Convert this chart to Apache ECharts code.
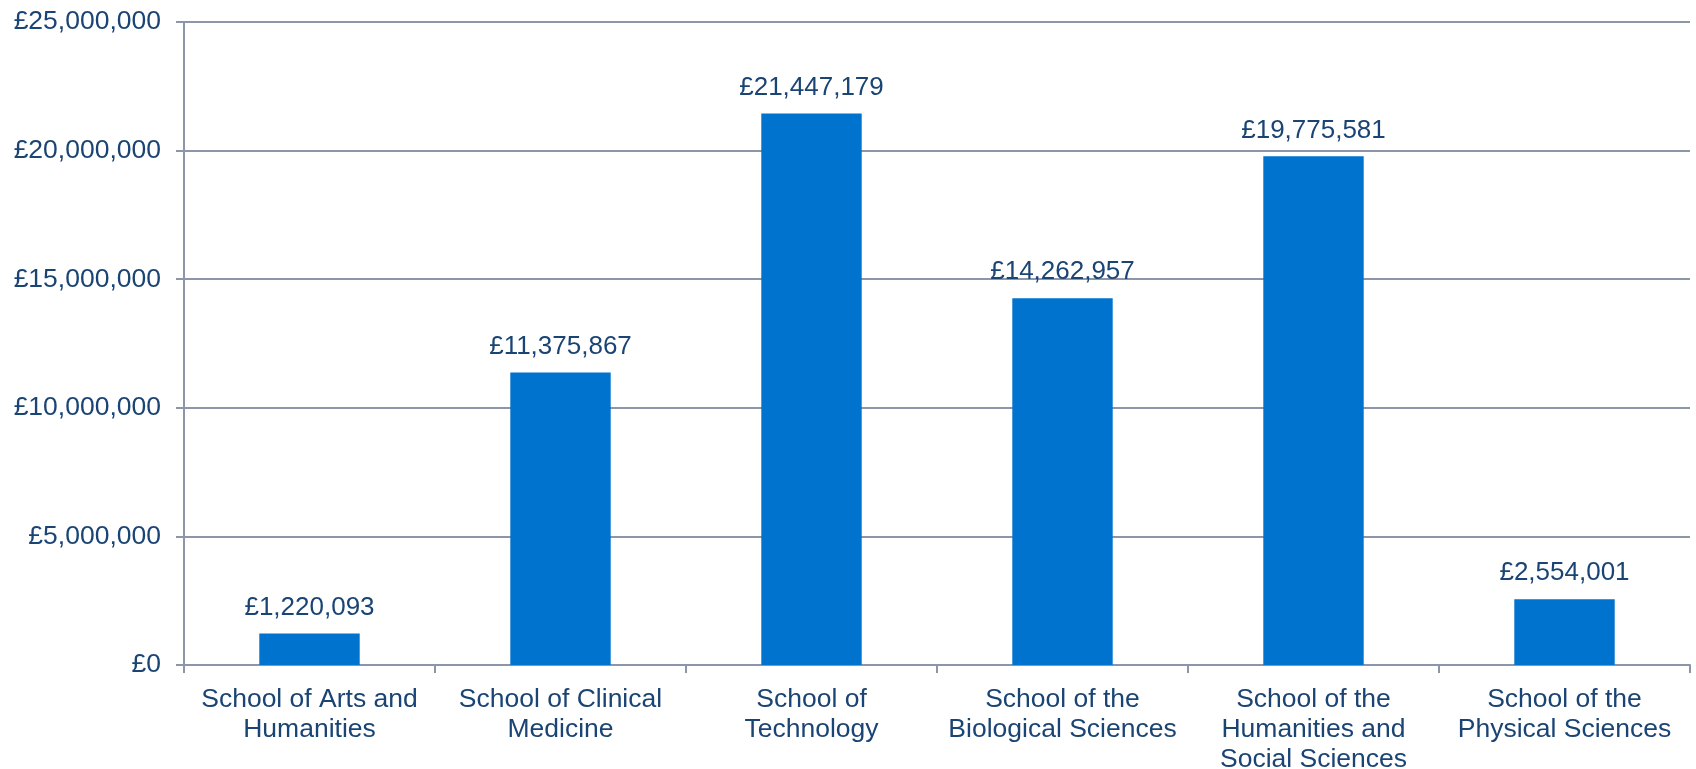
<!DOCTYPE html>
<html>
<head>
<meta charset="utf-8">
<script src="https://cdn.jsdelivr.net/npm/echarts@6/dist/echarts.min.js"></script>
<style>html,body{margin:0;padding:0;background:#fff}#c{width:1696px;height:769px}</style>
</head>
<body>
<div id="c"></div>
<script>
const categories = [
  "School of Arts and\nHumanities",
  "School of Clinical\nMedicine",
  "School of\nTechnology",
  "School of the\nBiological Sciences",
  "School of the\nHumanities and\nSocial Sciences",
  "School of the\nPhysical Sciences"
];
const values = [1220093, 11375867, 21447179, 14262957, 19775581, 2554001];

const textColor = '#1A4474';
const lineColor = '#8C96A8';
const font = "'Liberation Sans', Arial, sans-serif";
const fmt = v => '£' + Number(v).toLocaleString('en-GB');

const chart = echarts.init(document.getElementById('c'));
chart.setOption({
  animation: false,
  grid: { left: 184, right: 6, top: 22, bottom: 104, containLabel: false, outerBoundsMode: 'none' },
  xAxis: {
    type: 'category',
    data: categories,
    axisLine: { lineStyle: { color: lineColor, width: 2 } },
    axisTick: { show: true, length: 8, alignWithLabel: false, lineStyle: { color: lineColor, width: 2 } },
    axisLabel: { color: textColor, fontFamily: font, fontSize: 26.5, lineHeight: 30, margin: 20, interval: 0 }
  },
  yAxis: {
    type: 'value',
    min: 0, max: 25000000, interval: 5000000,
    axisLine: { show: true, lineStyle: { color: lineColor, width: 2 } },
    axisTick: { show: true, length: 8, lineStyle: { color: lineColor, width: 2 } },
    splitLine: { show: true, lineStyle: { color: lineColor, width: 2 } },
    axisLabel: { color: textColor, fontFamily: font, fontSize: 26.5, margin: 23, formatter: fmt }
  },
  series: [{
    type: 'bar',
    data: values,
    barWidth: '40%',
    itemStyle: { color: '#0073CF' },
    label: {
      show: true, position: 'top', distance: 13,
      color: textColor, fontFamily: font, fontSize: 26,
      formatter: p => fmt(p.value)
    }
  }]
});
</script>
</body>
</html>
